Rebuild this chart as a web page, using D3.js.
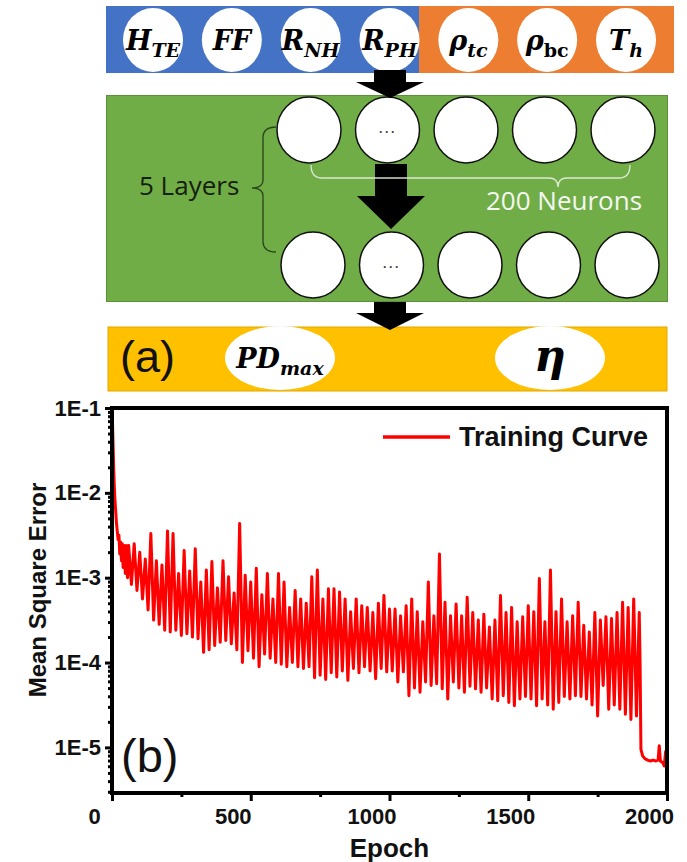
<!DOCTYPE html>
<html>
<head>
<meta charset="utf-8">
<script src="https://cdn.jsdelivr.net/npm/d3@7"></script>
<style>
  body { margin: 0; background: #fff; }
  svg { display: block; }
</style>
</head>
<body>
<div id="chart"></div>
<script>
'use strict';

// ---------- (a) network diagram
const inputNames = ["H", "FF", "R", "R", "ρ", "ρ", "T"];
const inputSubs = ["TE", "", "NH", "PH", "tc", "bc", "h"];
const inputGroups = ["device", "device", "device", "device", "material", "material", "material"];
const hiddenNeurons = ["", "...", "", "", ""];
const hiddenRows = ["first", "last"];
const layersLabel = "5 Layers";
const neuronsLabel = "200 Neurons";
const outputNames = ["PD", "η"];
const outputSubs = ["max", ""];
const panelLabels = ["(a)", "(b)"];

// ---------- (b) training curve (epoch, log10 of MSE)
const epochs = [
  0, 2, 4, 6, 8, 10, 13, 16, 19, 22, 25, 28, 31, 34, 37, 40, 44, 48, 52, 56,
  60, 70, 80, 90, 100, 110, 120, 130, 140, 150, 160, 170, 180, 190, 200, 210, 220, 230, 240, 250,
  260, 270, 280, 290, 300, 310, 320, 330, 340, 350, 360, 370, 380, 390, 400, 410, 420, 430, 440, 450,
  460, 470, 480, 490, 500, 510, 520, 530, 540, 550, 560, 570, 580, 590, 600, 610, 620, 630, 640, 650,
  660, 670, 680, 690, 700, 710, 720, 730, 740, 750, 760, 770, 780, 790, 800, 810, 820, 830, 840, 850,
  860, 870, 880, 890, 900, 910, 920, 930, 940, 950, 960, 970, 980, 990, 1000, 1010, 1020, 1030, 1040, 1050,
  1060, 1070, 1080, 1090, 1100, 1110, 1120, 1130, 1140, 1150, 1160, 1170, 1180, 1190, 1200, 1210, 1220, 1230, 1240, 1250,
  1260, 1270, 1280, 1290, 1300, 1310, 1320, 1330, 1340, 1350, 1360, 1370, 1380, 1390, 1400, 1410, 1420, 1430, 1440, 1450,
  1460, 1470, 1480, 1490, 1500, 1510, 1520, 1530, 1540, 1550, 1560, 1570, 1580, 1590, 1600, 1610, 1620, 1630, 1640, 1650,
  1660, 1670, 1680, 1690, 1700, 1710, 1720, 1730, 1740, 1750, 1760, 1770, 1780, 1790, 1800, 1810, 1820, 1830, 1840, 1850,
  1860, 1870, 1880, 1890, 1900,
  1903, 1906, 1912, 1920, 1930, 1940, 1950, 1960, 1968, 1972, 1976, 1985, 1990, 1995, 2000
];
const mseExp = [
  -1.00, -1.20, -1.45, -1.70, -1.90, -2.05, -2.20, -2.35, -2.45, -2.55, -2.50, -2.72, -2.58, -2.80, -2.60, -2.88, -2.62, -2.95, -2.62, -3.00,
  -2.62, -3.08, -2.60, -3.15, -2.70, -3.25, -2.78, -3.38, -2.48, -3.50, -2.80, -3.55, -2.85, -3.62, -2.45, -3.64, -2.48, -3.62, -2.95, -3.68,
  -2.68, -3.66, -2.92, -3.70, -2.66, -3.72, -3.05, -3.88, -2.91, -3.85, -2.81, -3.80, -3.12, -3.76, -2.80, -3.74, -2.99, -3.78, -3.18, -3.85,
  -2.36, -4.00, -2.97, -3.86, -3.05, -3.95, -2.89, -4.05, -3.20, -3.90, -2.95, -3.95, -3.25, -4.00, -2.95, -4.02, -3.05, -4.05, -3.35, -4.00,
  -3.15, -4.05, -3.25, -4.07, -3.30, -4.05, -2.99, -4.18, -2.91, -4.15, -3.25, -4.20, -3.13, -4.12, -3.13, -4.17, -3.17, -4.10, -3.25, -4.21,
  -3.40, -4.07, -3.25, -4.12, -3.33, -4.05, -3.35, -4.10, -3.41, -4.19, -3.30, -4.07, -3.21, -4.11, -3.37, -4.10, -3.37, -4.23, -3.45, -4.11,
  -3.33, -4.39, -3.25, -4.30, -3.40, -4.35, -3.52, -4.23, -3.05, -4.27, -3.45, -4.25, -2.72, -4.31, -3.29, -4.43, -3.45, -4.23, -3.31, -4.30,
  -3.45, -4.35, -3.23, -4.28, -3.41, -4.31, -3.50, -4.35, -3.43, -4.30, -3.58, -4.43, -3.50, -4.45, -3.21, -4.39, -3.41, -4.47, -3.35, -4.51,
  -3.52, -4.43, -3.46, -4.40, -3.33, -4.43, -3.40, -4.51, -3.01, -4.43, -3.52, -4.50, -2.91, -4.55, -3.40, -4.47, -3.25, -4.40, -3.52, -4.43,
  -3.45, -4.39, -3.29, -4.40, -3.56, -4.43, -3.64, -4.50, -3.41, -4.63, -3.50, -4.27, -3.46, -4.55, -3.48, -4.50, -3.41, -4.55, -3.29, -4.61,
  -3.35, -4.67, -3.25, -4.63, -3.41,
  -4.00, -5.02, -5.10, -5.13, -5.15, -5.16, -5.15, -5.16, -5.15, -4.98, -5.16, -5.18, -5.22, -5.05, -5.25
];
const yTicks = [1e-1, 1e-2, 1e-3, 1e-4, 1e-5];
const xTicks = [0, 500, 1000, 1500, 2000];
const xMinorTicks = [250, 750, 1250, 1750];
const legendLabel = "Training Curve";
const xTitle = "Epoch";
const yTitle = "Mean Square Error";

// ---------- styles / layout
const groupColor = {device: "#4472C4", material: "#ED7D31"};
const mathFont = "'DejaVu Serif', serif";
const textFont = "'Open Sans', sans-serif";
const axisFont = "'Liberation Sans', Arial, sans-serif";
const plot = {left: 112, right: 667, top: 408, bottom: 793};

const svg = d3.select("#chart").append("svg")
  .attr("width", 687)
  .attr("height", 862);

function mathLabel(parent, x, y, name, sub, size, subSize, subUpright){
  let t = parent.append("text")
    .attr("x", x).attr("y", y)
    .attr("text-anchor", "middle")
    .style("font-family", mathFont)
    .style("font-weight", "bold")
    .style("font-style", "italic")
    .style("font-size", size + "px")
    .attr("fill", "#000");
  t.append("tspan").text(name);
  if(sub){
    t.append("tspan")
      .attr("dy", subSize * 0.38)
      .style("font-size", subSize + "px")
      .style("font-style", subUpright ? "normal" : "italic")
      .text(sub);
  }
  return t;
}

function arrow(parent, cx, y0, y1, y2){
  //shaft from y0 to y1, head from y1 to tip y2
  let sw = 16, hw = 34;
  parent.append("path")
    .attr("d", `M${cx - sw},${y0} L${cx + sw},${y0} L${cx + sw},${y1} L${cx + hw},${y1} L${cx},${y2} L${cx - hw},${y1} L${cx - sw},${y1} Z`)
    .attr("fill", "#000");
}

/* ---------------- (a) ---------------- */
const diag = svg.append("g").attr("class", "diagram");

const xNode = d3.scalePoint().domain(d3.range(inputNames.length)).range([153, 626]);
const xHidden = d3.scalePoint().domain(d3.range(hiddenNeurons.length)).range([309, 623]);

// input bar
diag.append("rect")
  .attr("x", 106).attr("y", 6).attr("width", 419 - 106).attr("height", 67)
  .attr("fill", groupColor.device);
diag.append("rect")
  .attr("x", 419).attr("y", 6).attr("width", 674 - 419).attr("height", 67)
  .attr("fill", groupColor.material);

inputNames.forEach((n, i) => {
  diag.append("ellipse")
    .attr("cx", xNode(i)).attr("cy", 40)
    .attr("rx", 30).attr("ry", 32)
    .attr("fill", "#fff");
  mathLabel(diag, xNode(i), 50, n, inputSubs[i], 27, 19, inputSubs[i] === "bc");
});

// hidden layers
diag.append("rect")
  .attr("x", 106.5).attr("y", 95.5).attr("width", 561).attr("height", 206)
  .attr("fill", "#70AD47").attr("stroke", "#5b9138").attr("stroke-width", 1);

hiddenRows.forEach((r, k) => {
  let cy = k === 0 ? 130 : 265,
      dx = k === 0 ? 0 : 4;
  hiddenNeurons.forEach((n, i) => {
    diag.append("ellipse")
      .attr("cx", xHidden(i) + dx).attr("cy", cy)
      .attr("rx", 32).attr("ry", 33)
      .attr("fill", "#fff").attr("stroke", "#111").attr("stroke-width", 1.5);
    if(n){
      diag.append("text")
        .attr("x", xHidden(i) + dx).attr("y", cy + 3)
        .attr("text-anchor", "middle")
        .style("font-family", textFont).style("font-size", "17px")
        .style("letter-spacing", "1.5px")
        .attr("fill", "#333").text(n);
    }
  });
});

// output bar
diag.append("rect")
  .attr("x", 108).attr("y", 327).attr("width", 559).attr("height", 64)
  .attr("fill", "#FFC000").attr("stroke", "#e0a800").attr("stroke-width", 1);

const xOut = d3.scalePoint().domain(d3.range(outputNames.length)).range([280, 550]);
outputNames.forEach((n, i) => {
  diag.append("ellipse")
    .attr("cx", xOut(i)).attr("cy", 358)
    .attr("rx", 55).attr("ry", 32)
    .attr("fill", "#fff");
});
mathLabel(diag, xOut(0), 368, outputNames[0], outputSubs[0], 27, 19, false);
mathLabel(diag, xOut(1), 371, outputNames[1], "", 44, 0, false);

// arrows
arrow(diag, 390, 70, 82, 98);
arrow(diag, 391, 164, 196, 229);
arrow(diag, 390, 302, 313, 330);

// braces
diag.append("path")
  .attr("d", "M276,127 Q263,127 263,138 L263,180 Q263,188 252,188 Q263,188 263,196 L263,241 Q263,252 276,252")
  .attr("fill", "none").attr("stroke", "#2a4419").attr("stroke-width", 1.3);
diag.append("text")
  .attr("x", 139).attr("y", 195)
  .style("font-family", textFont).style("font-size", "26px")
  .attr("fill", "#15200e").text(layersLabel);

diag.append("path")
  .attr("d", "M311,165 Q311,178 322,178 L549,178 Q558,178 558,187 Q558,178 567,178 L619,178 Q630,178 630,165")
  .attr("fill", "none").attr("stroke", "#e8eee2").attr("stroke-width", 1.3).attr("opacity", 0.9);
diag.append("text")
  .attr("x", 486).attr("y", 210)
  .style("font-family", textFont).style("font-size", "26px")
  .attr("fill", "#f4f6f2").text(neuronsLabel);

diag.append("text")
  .attr("x", 120).attr("y", 372)
  .style("font-family", axisFont).style("font-size", "45px")
  .attr("fill", "#111").text(panelLabels[0]);

/* ---------------- (b) ---------------- */
const chart = svg.append("g").attr("class", "curve");

const x = d3.scaleLinear().domain([0, 2000]).range([plot.left, plot.right]);
const y = d3.scaleLog().domain([2.9e-6, 0.1]).range([plot.bottom, plot.top]);

chart.append("clipPath").attr("id", "plotClip")
  .append("rect")
  .attr("x", plot.left).attr("y", plot.top)
  .attr("width", plot.right - plot.left).attr("height", plot.bottom - plot.top);

const line = d3.line()
  .x((d, i) => x(epochs[i]))
  .y(d => y(Math.pow(10, d)));

chart.append("path")
  .datum(mseExp)
  .attr("clip-path", "url(#plotClip)")
  .attr("d", line)
  .attr("fill", "none")
  .attr("stroke", "#ff0000")
  .attr("stroke-width", 3)
  .attr("stroke-linejoin", "round");

// x axis
const gx = chart.append("g")
  .attr("transform", `translate(0,${plot.bottom})`)
  .call(d3.axisBottom(x).tickValues(xTicks).tickSize(8).tickPadding(7).tickFormat(d3.format("d")));
gx.append("g")
  .call(d3.axisBottom(x).tickValues(xMinorTicks).tickSize(4).tickFormat(""));

// y axis
const gy = chart.append("g")
  .attr("transform", `translate(${plot.left},0)`)
  .call(d3.axisLeft(y).tickValues(yTicks).tickSize(7).tickPadding(4)
    .tickFormat(d => "1E" + Math.round(Math.log10(d))));
gy.append("g")
  .call(d3.axisLeft(y).tickValues(y.ticks().filter(t => yTicks.indexOf(t) < 0 && t >= 3e-6)).tickSize(4).tickFormat(""));

[gx, gy].forEach(g => {
  g.selectAll(".domain").remove();
  g.selectAll("line").attr("stroke", "#000").attr("stroke-width", 3);
  g.selectAll("text")
    .style("font-family", axisFont)
    .style("font-weight", "bold")
    .style("font-size", "22px")
    .attr("fill", "#111");
});
// tick labels sit left of their ticks, as in the original plot
gx.selectAll(".tick text").attr("dx", -18);

// frame
chart.append("rect")
  .attr("x", plot.left).attr("y", plot.top)
  .attr("width", plot.right - plot.left).attr("height", plot.bottom - plot.top)
  .attr("fill", "none").attr("stroke", "#000").attr("stroke-width", 4);

// titles
chart.append("text")
  .attr("x", (plot.left + plot.right) / 2).attr("y", 857)
  .attr("text-anchor", "middle")
  .style("font-family", axisFont).style("font-weight", "bold").style("font-size", "26px")
  .attr("fill", "#111").text(xTitle);

chart.append("text")
  .attr("transform", "translate(46,590) rotate(-90)")
  .attr("text-anchor", "middle")
  .style("font-family", axisFont).style("font-weight", "bold").style("font-size", "24px")
  .attr("fill", "#111").text(yTitle);

// legend
chart.append("line")
  .attr("x1", 383).attr("x2", 450).attr("y1", 437).attr("y2", 437)
  .attr("stroke", "#ff0000").attr("stroke-width", 3.5);
chart.append("text")
  .attr("x", 459).attr("y", 446)
  .style("font-family", axisFont).style("font-weight", "bold").style("font-size", "27px")
  .attr("fill", "#111").text(legendLabel);

chart.append("text")
  .attr("x", 121).attr("y", 772)
  .style("font-family", axisFont).style("font-size", "47px")
  .attr("fill", "#111").text(panelLabels[1]);
</script>
</body>
</html>
